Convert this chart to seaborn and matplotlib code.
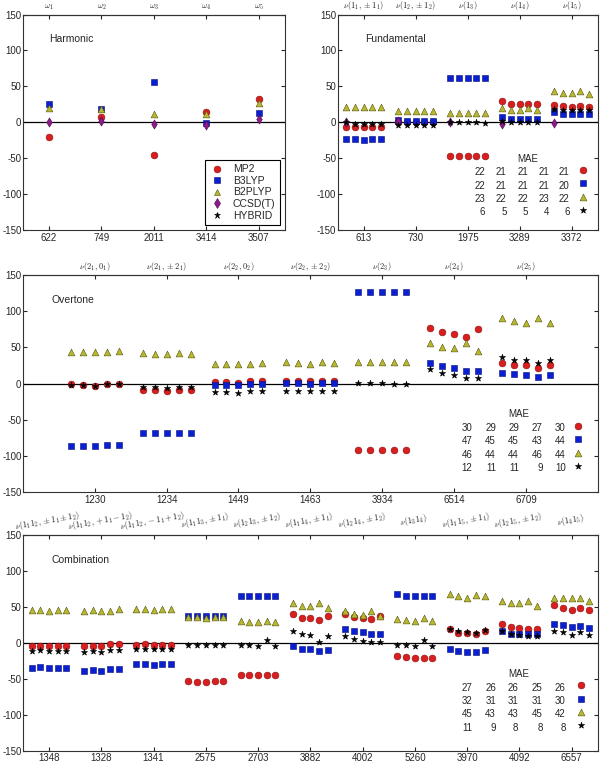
import numpy as np
import matplotlib
matplotlib.use("Agg")
import matplotlib.pyplot as plt
from matplotlib.lines import Line2D
import seaborn as sns

nan = np.nan

methods = ["MP2", "B3LYP", "B2PLYP", "CCSD(T)", "HYBRID"]

# ---- Harmonic (one value per mode) ----
harm_ticks = ["622", "749", "2011", "3414", "3507"]
harm_top = [r"$\omega_1$", r"$\omega_2$", r"$\omega_3$", r"$\omega_4$", r"$\omega_5$"]
harm_mp2 = [-21, 7, -45, 14, 32]
harm_b3lyp = [25, 18, 56, -1, 13]
harm_b2plyp = [20, 18, 11, 11, 27]
harm_ccsdt = [0, 2, -2, -4, 5]
harm_hybrid = [nan, nan, nan, nan, nan]

# ---- Fundamental (five variants per band) ----
fund_ticks = ["613", "730", "1975", "3289", "3372"]
fund_top = [r"$\nu(1_1,\pm 1_1)$", r"$\nu(1_2,\pm 1_2)$", r"$\nu(1_3)$",
            r"$\nu(1_4)$", r"$\nu(1_5)$"]
fund_mp2 = [[-7, -7, -7, -7, -7], [1, 1, 1, 1, 1], [-47, -47, -47, -47, -47],
            [29, 26, 25, 25, 25], [24, 22, 21, 22, 21]]
fund_b3lyp = [[-24, -24, -25, -24, -24], [3, 2, 2, 2, 2], [61, 61, 61, 61, 61],
              [7, 5, 4, 4, 4], [14, 12, 12, 12, 12]]
fund_b2plyp = [[21, 21, 21, 21, 21], [15, 15, 15, 15, 15], [13, 13, 13, 13, 13],
               [20, 17, 17, 20, 17], [43, 41, 41, 44, 40]]
fund_ccsdt = [[0, nan, nan, nan, nan], [2, nan, nan, nan, nan], [0, nan, nan, nan, nan],
              [-2, nan, nan, nan, nan], [-1.5, nan, nan, nan, nan]]
fund_hybrid = [[0, -2, -3, -2, -2], [-4, -4, -4, -4, -4], [0, 0, 0, 0, -1],
               [2, 0, 0, 0, 0], [18, 17, 17, 17, 17]]
fund_mae = [["22", "21", "21", "21", "21"], ["22", "21", "21", "21", "20"],
            ["23", "22", "22", "23", "22"], ["6", "5", "5", "4", "6"]]

# ---- Overtone ----
ov_ticks = ["1230", "1234", "1449", "1463", "3934", "6514", "6709"]
ov_top = [r"$\nu(2_1,0_1)$", r"$\nu(2_1,\pm 2_1)$", r"$\nu(2_2,0_2)$",
          r"$\nu(2_2,\pm 2_2)$", r"$\nu(2_3)$", r"$\nu(2_4)$", r"$\nu(2_5)$"]
ov_mp2 = [[-1, -2, -3, 0, 0], [-9, -9, -10, -9, -9], [2, 2, 1, 3, 3], [4, 3, 3, 4, 4],
          [-92, -92, -92, -92, -92], [77, 71, 69, 64, 76], [29, 26, 25, 21, 25]]
ov_b3lyp = [[-86, -86, -87, -85, -85], [-69, -69, -69, -69, -68], [-2, -2, -2, 0, 0],
            [1, 1, 0, 1, 1], [126, 126, 126, 126, 126], [29, 24, 22, 18, 18],
            [15, 13, 12, 9, 12]]
ov_b2plyp = [[43, 43, 43, 44, 45], [42, 41, 41, 42, 41], [27, 27, 27, 27, 28],
             [30, 29, 27, 30, 29], [30, 30, 30, 30, 30], [56, 51, 49, 56, 45],
             [90, 86, 84, 90, 84]]
ov_ccsdt = [[nan] * 5 for _ in range(7)]
ov_hybrid = [[-2, -2, -3, -1, -1], [-5, -5, -6, -5, -5], [-12, -12, -13, -10, -11],
             [-10, -10, -11, -10, -10], [1, 1, 1, 0, 0], [20, 15, 12, 8, 8],
             [37, 33, 33, 28, 33]]
ov_mae = [["30", "29", "29", "27", "30"], ["47", "45", "45", "43", "44"],
          ["46", "44", "44", "46", "44"], ["12", "11", "11", "9", "10"]]

# ---- Combination ----
cb_ticks = ["1348", "1328", "1341", "2575", "2703", "3882", "4002", "5260", "3970",
            "4092", "6557"]
cb_top = [r"$\nu(1_1 1_2,\pm 1_1 \pm 1_2)$", r"$\nu(1_1 1_2,+1_1 -1_2)$",
          r"$\nu(1_1 1_2,-1_1 +1_2)$", r"$\nu(1_1 1_3,\pm 1_1)$",
          r"$\nu(1_2 1_3,\pm 1_2)$", r"$\nu(1_1 1_4,\pm 1_1)$",
          r"$\nu(1_2 1_4,\pm 1_2)$", r"$\nu(1_3 1_4)$", r"$\nu(1_1 1_5,\pm 1_1)$",
          r"$\nu(1_2 1_5,\pm 1_2)$", r"$\nu(1_4 1_5)$"]
cb_mp2 = [[-4, -4, -5, -4, -4], [-5, -4, -5, -2, -2], [-3, -2, -3, -3, -3],
          [-53, -54, -54, -53, -53], [-44, -44, -45, -44, -44], [40, 35, 34, 32, 38],
          [40, 36, 35, 33, 38], [-18, -20, -21, -21, -21], [19, 14, 14, 13, 17],
          [26, 22, 21, 19, 19], [53, 49, 46, 49, 46]]
cb_b3lyp = [[-35, -34, -35, -35, -35], [-39, -38, -39, -36, -36], [-30, -30, -31, -30, -30],
            [38, 38, 38, 38, 38], [66, 66, 65, 66, 66], [-4, -8, -9, -11, -10],
            [20, 16, 15, 13, 13], [68, 66, 65, 65, 65], [-9, -11, -12, -13, -10],
            [16, 13, 13, 12, 12], [27, 25, 22, 24, 21]]
cb_b2plyp = [[46, 46, 45, 46, 46], [45, 46, 45, 45, 47], [47, 47, 46, 47, 47],
             [36, 36, 35, 36, 36], [30, 29, 29, 30, 29], [55, 51, 51, 55, 49],
             [44, 40, 39, 44, 37], [33, 32, 31, 34, 30], [68, 65, 63, 67, 66],
             [59, 56, 55, 59, 52], [63, 62, 62, 62, 58]]
cb_ccsdt = [[nan] * 5 for _ in range(11)]
cb_hybrid = [[-11, -10, -11, -11, -11], [-13, -11, -13, -10, -10], [-9, -9, -9, -9, -9],
             [-3, -3, -3, -3, -3], [-3, -3, -4, 4, -4], [17, 12, 11, 1, 9],
             [9, 5, 3, 1, 1], [-3, -3, -4, 4, -4], [20, 16, 15, 14, 18],
             [17, 13, 11, 9, 9], [17, 15, 11, 15, 11]]
cb_mae = [["27", "26", "26", "25", "26"], ["32", "31", "31", "31", "30"],
          ["45", "43", "43", "45", "42"], ["11", "9", "8", "8", "8"]]

# marker styles
colors = {"MP2": "#d81e1e", "B3LYP": "#0a1ed2", "B2PLYP": "#b8b830",
          "CCSD(T)": "#8e1a8e", "HYBRID": "black"}
edges = {"MP2": "#8a1010", "B3LYP": "#05107a", "B2PLYP": "#555510",
         "CCSD(T)": "#4a0a4a", "HYBRID": "black"}
markers = {"MP2": "o", "B3LYP": "s", "B2PLYP": "^", "CCSD(T)": "d", "HYBRID": "*"}
sizes = {"MP2": 24, "B3LYP": 22, "B2PLYP": 24, "CCSD(T)": 22, "HYBRID": 22}

sns.set_style("ticks")
plt.rcParams["font.family"] = ["Liberation Sans", "DejaVu Sans"]
plt.rcParams["mathtext.fontset"] = "cm"
plt.rcParams["axes.unicode_minus"] = False
plt.rcParams["font.size"] = 7

fig = plt.figure(figsize=(6.02, 7.64), dpi=100)


def draw_panel(ax, data, ticks, top, first, title, title_x, rot=0):
    for m, vals in zip(methods, data):
        vals = np.atleast_2d(np.array(vals, dtype=float))
        if vals.shape[0] == 1 and len(ticks) > 1:
            vals = vals.T
        n, k = vals.shape
        offs = (np.arange(k) - (k - 1) / 2) / 6.0
        xs = (first + np.arange(n)[:, None] + offs[None, :]).ravel()
        ys = vals.ravel()
        sns.scatterplot(x=xs, y=ys, marker=markers[m], color=colors[m],
                        edgecolor=edges[m], linewidth=0.4, s=sizes[m], ax=ax,
                        legend=False, zorder=3)
    ax.axhline(0, color="black", lw=0.9, zorder=2)
    pos = first + np.arange(len(ticks))
    ax.set_xticks(pos, ticks)
    ax.set_ylim(-150, 150)
    ax.set_yticks([-150, -100, -50, 0, 50, 100, 150])
    ax.tick_params(direction="in", length=3, right=True, labelsize=7, pad=2)
    ax.tick_params(axis="y", pad=1)
    for sp in ax.spines.values():
        sp.set_linewidth(0.8)
        sp.set_color("#333333")
    sec = ax.secondary_xaxis("top")
    sec.set_xticks(pos)
    if rot:
        sec.set_xticklabels(top, rotation=rot, ha="center", fontsize=6,
                            rotation_mode="anchor", va="bottom")
        sec.tick_params(direction="in", length=3, pad=6)
    else:
        sec.set_xticklabels(top, fontsize=6)
        sec.tick_params(direction="in", length=3, pad=1.5)
    ax.text(title_x, 0.885, title, transform=ax.transAxes, fontsize=7.5,
            va="center", ha="left")
    return ax


def mae_table(ax, rows, col_x, mark_x, y_top):
    ax.text((col_x[0] + col_x[-1]) / 2, y_top, "MAE", transform=ax.transAxes,
            ha="center", va="center", fontsize=7)
    keys = ["MP2", "B3LYP", "B2PLYP", "HYBRID"]
    for r, (row, m) in enumerate(zip(rows, keys)):
        yy = y_top - 0.062 * (r + 1)
        for cx, txt in zip(col_x, row):
            ax.text(cx, yy, txt, transform=ax.transAxes, ha="right", va="center",
                    fontsize=7)
        ax.scatter([mark_x], [yy + 0.01], marker=markers[m], color=colors[m],
                   edgecolor=edges[m], linewidths=0.4, s=sizes[m],
                   transform=ax.transAxes, clip_on=False, zorder=4)


ax1 = fig.add_axes([0.038, 0.699, 0.435, 0.282])
draw_panel(ax1, [harm_mp2, harm_b3lyp, harm_b2plyp, harm_ccsdt, harm_hybrid],
           harm_ticks, harm_top, 0, "Harmonic", 0.10)
ax1.set_xlim(-0.5, 4.5)
handles = [Line2D([], [], ls="none", marker=markers[m], color=colors[m],
                  markeredgecolor=edges[m], markeredgewidth=0.4,
                  markersize=np.sqrt(sizes[m])) for m in methods]
leg = ax1.legend(handles, methods, loc="lower right", fontsize=7.5, frameon=True,
                 fancybox=False, edgecolor="black", framealpha=1, borderpad=0.4,
                 labelspacing=0.15, handletextpad=0.8, handlelength=1.5,
                 borderaxespad=0.5)
leg.get_frame().set_linewidth(0.8)

ax2 = fig.add_axes([0.561, 0.699, 0.432, 0.282])
draw_panel(ax2, [fund_mp2, fund_b3lyp, fund_b2plyp, fund_ccsdt, fund_hybrid],
           fund_ticks, fund_top, 0, "Fundamental", 0.104)
ax2.set_xlim(-0.5, 4.5)
mae_table(ax2, fund_mae, [0.567, 0.65, 0.732, 0.815, 0.892], 0.943, 0.33)

ax3 = fig.add_axes([0.038, 0.356, 0.955, 0.284])
draw_panel(ax3, [ov_mp2, ov_b3lyp, ov_b2plyp, ov_ccsdt, ov_hybrid],
           ov_ticks, ov_top, 1, "Overtone", 0.05)
ax3.set_xlim(0, 8)
mae_table(ax3, ov_mae, [0.782, 0.823, 0.863, 0.904, 0.944], 0.965, 0.358)

ax4 = fig.add_axes([0.038, 0.0175, 0.955, 0.282])
draw_panel(ax4, [cb_mp2, cb_b3lyp, cb_b2plyp, cb_ccsdt, cb_hybrid],
           cb_ticks, cb_top, 0, "Combination", 0.05, rot=10)
ax4.set_xlim(-0.5, 10.5)
mae_table(ax4, cb_mae, [0.782, 0.823, 0.862, 0.904, 0.944], 0.97, 0.355)

fig.savefig("out.png", dpi=100)
